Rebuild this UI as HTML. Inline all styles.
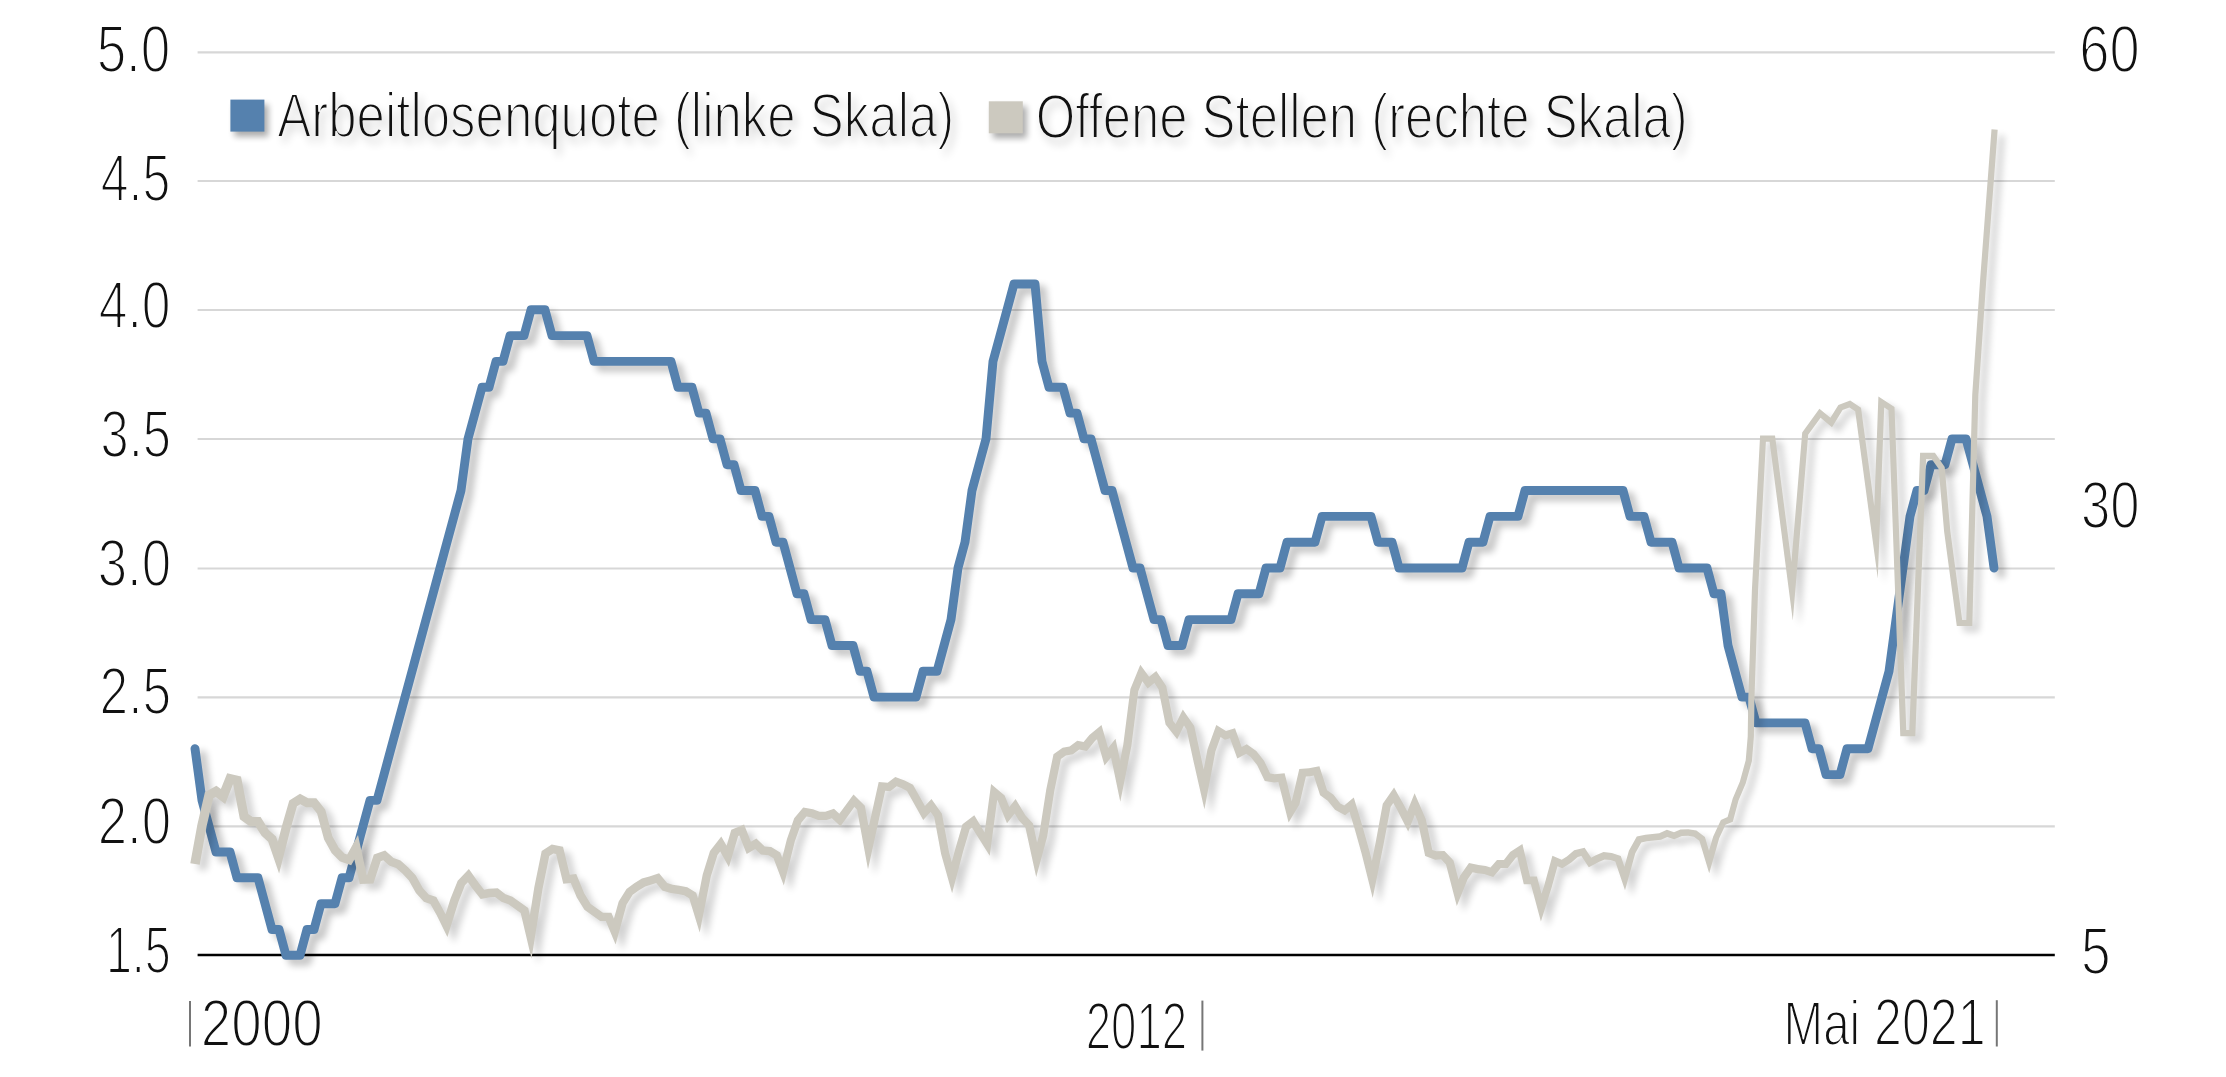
<!DOCTYPE html>
<html lang="de"><head><meta charset="utf-8"><title>Arbeitslosenquote und offene Stellen</title>
<style>html,body{margin:0;padding:0;background:#fff;}svg{display:block;}</style></head>
<body>
<svg width="2226" height="1077" viewBox="0 0 2226 1077" font-family="&quot;Liberation Sans&quot;, sans-serif" fill="#111">
<defs>
<filter id="sh" x="-5%" y="-5%" width="110%" height="115%" color-interpolation-filters="sRGB">
<feGaussianBlur in="SourceAlpha" stdDeviation="3.5"/><feOffset dx="6.5" dy="5.5"/>
<feComponentTransfer><feFuncA type="linear" slope="0.23"/></feComponentTransfer>
<feMerge><feMergeNode/><feMergeNode in="SourceGraphic"/></feMerge></filter>
<filter id="shg" x="-5%" y="-5%" width="110%" height="115%" color-interpolation-filters="sRGB">
<feGaussianBlur in="SourceAlpha" stdDeviation="3.5"/><feOffset dx="6.5" dy="5.5"/>
<feComponentTransfer><feFuncA type="linear" slope="0.18"/></feComponentTransfer>
<feMerge><feMergeNode/><feMergeNode in="SourceGraphic"/></feMerge></filter>
<filter id="shq" x="-50%" y="-50%" width="220%" height="220%" color-interpolation-filters="sRGB">
<feGaussianBlur in="SourceAlpha" stdDeviation="3"/><feOffset dx="4" dy="5"/>
<feComponentTransfer><feFuncA type="linear" slope="0.33"/></feComponentTransfer>
<feMerge><feMergeNode/><feMergeNode in="SourceGraphic"/></feMerge></filter>
<filter id="sht" x="-5%" y="-30%" width="110%" height="180%" color-interpolation-filters="sRGB">
<feColorMatrix in="SourceGraphic" type="matrix" values="0 0 0 0 0  0 0 0 0 0  0 0 0 0 0  -0.36 -0.36 -0.36 1.08 0" result="thin"/>
<feGaussianBlur in="thin" stdDeviation="5"/><feOffset dx="5" dy="5.5"/>
<feComponentTransfer result="shadow"><feFuncA type="linear" slope="0.25"/></feComponentTransfer>
<feFlood flood-color="#111"/><feComposite in2="thin" operator="in" result="ink"/>
<feMerge><feMergeNode in="shadow"/><feMergeNode in="ink"/></feMerge></filter>
</defs>
<rect width="2226" height="1077" fill="#fff"/>
<text transform="translate(170.35,72.00) scale(0.8035,1)" font-size="66.0" text-anchor="end" stroke="#fff" stroke-width="1.9" vector-effect="non-scaling-stroke" stroke-linejoin="round" >5.0</text>
<text transform="translate(170.17,200.50) scale(0.7569,1)" font-size="66.0" text-anchor="end" stroke="#fff" stroke-width="1.9" vector-effect="non-scaling-stroke" stroke-linejoin="round" >4.5</text>
<text transform="translate(170.47,328.40) scale(0.7827,1)" font-size="66.0" text-anchor="end" stroke="#fff" stroke-width="1.9" vector-effect="non-scaling-stroke" stroke-linejoin="round" >4.0</text>
<text transform="translate(171.01,456.50) scale(0.7678,1)" font-size="66.0" text-anchor="end" stroke="#fff" stroke-width="1.9" vector-effect="non-scaling-stroke" stroke-linejoin="round" >3.5</text>
<text transform="translate(171.14,586.20) scale(0.8011,1)" font-size="66.0" text-anchor="end" stroke="#fff" stroke-width="1.9" vector-effect="non-scaling-stroke" stroke-linejoin="round" >3.0</text>
<text transform="translate(171.06,714.10) scale(0.7798,1)" font-size="66.0" text-anchor="end" stroke="#fff" stroke-width="1.9" vector-effect="non-scaling-stroke" stroke-linejoin="round" >2.5</text>
<text transform="translate(171.14,843.60) scale(0.8011,1)" font-size="66.0" text-anchor="end" stroke="#fff" stroke-width="1.9" vector-effect="non-scaling-stroke" stroke-linejoin="round" >2.0</text>
<text transform="translate(170.79,972.70) scale(0.7075,1)" font-size="66.0" text-anchor="end" stroke="#fff" stroke-width="1.9" vector-effect="non-scaling-stroke" stroke-linejoin="round" >1.5</text>
<text transform="translate(2079.28,72.20) scale(0.8232,1)" font-size="66.0" text-anchor="start" stroke="#fff" stroke-width="1.9" vector-effect="non-scaling-stroke" stroke-linejoin="round" >60</text>
<text transform="translate(2080.98,527.80) scale(0.7990,1)" font-size="66.0" text-anchor="start" stroke="#fff" stroke-width="1.9" vector-effect="non-scaling-stroke" stroke-linejoin="round" >30</text>
<text transform="translate(2080.94,973.80) scale(0.8063,1)" font-size="66.0" text-anchor="start" stroke="#fff" stroke-width="1.9" vector-effect="non-scaling-stroke" stroke-linejoin="round" >5</text>
<text transform="translate(200.86,1045.60) scale(0.8301,1)" font-size="66.0" text-anchor="start" stroke="#fff" stroke-width="1.9" vector-effect="non-scaling-stroke" stroke-linejoin="round" >2000</text>
<text transform="translate(1085.65,1048.70) scale(0.6920,1)" font-size="66.0" text-anchor="start" stroke="#fff" stroke-width="1.9" vector-effect="non-scaling-stroke" stroke-linejoin="round" >2012</text>
<text transform="translate(1783.57,1045.30) scale(0.7601,1)" font-size="66.0" text-anchor="start" stroke="#fff" stroke-width="1.9" vector-effect="non-scaling-stroke" stroke-linejoin="round" ><tspan font-size="62.5">Mai</tspan> 2021</text>
<text transform="translate(277.31,137.20) scale(0.8154,1)" font-size="62.5" text-anchor="start" stroke="#fff" stroke-width="1.9" vector-effect="non-scaling-stroke" stroke-linejoin="round" filter="url(#sht)">Arbeitlosenquote (linke Skala)</text>
<text transform="translate(1035.73,138.20) scale(0.8139,1)" font-size="62.5" text-anchor="start" stroke="#fff" stroke-width="1.9" vector-effect="non-scaling-stroke" stroke-linejoin="round" filter="url(#sht)">Offene Stellen (rechte Skala)</text>
<line x1="197.6" x2="2054.8" y1="52.3" y2="52.3" stroke="#d7d7d7" stroke-width="2.2"/>
<line x1="197.6" x2="2054.8" y1="181.0" y2="181.0" stroke="#d7d7d7" stroke-width="2.2"/>
<line x1="197.6" x2="2054.8" y1="310.0" y2="310.0" stroke="#d7d7d7" stroke-width="2.2"/>
<line x1="197.6" x2="2054.8" y1="439.0" y2="439.0" stroke="#d7d7d7" stroke-width="2.2"/>
<line x1="197.6" x2="2054.8" y1="568.5" y2="568.5" stroke="#d7d7d7" stroke-width="2.2"/>
<line x1="197.6" x2="2054.8" y1="697.3" y2="697.3" stroke="#d7d7d7" stroke-width="2.2"/>
<line x1="197.6" x2="2054.8" y1="826.3" y2="826.3" stroke="#d7d7d7" stroke-width="2.2"/>
<line x1="197.6" x2="2054.8" y1="955.0" y2="955.0" stroke="#000" stroke-width="2.3"/>
<line x1="190" x2="190" y1="1001" y2="1046.6" stroke="#767676" stroke-width="2"/>
<line x1="1202.4" x2="1202.4" y1="1000.6" y2="1050.6" stroke="#767676" stroke-width="2"/>
<line x1="1996.8" x2="1996.8" y1="1000.2" y2="1046.5" stroke="#767676" stroke-width="2"/>
<g filter="url(#sh)"><path d="M195.0,748.7 L202.0,800.4 L209.0,826.2 L216.0,852.0 L223.0,852.0 L230.0,852.0 L237.0,877.8 L244.0,877.8 L251.0,877.8 L258.0,877.8 L265.0,903.7 L272.0,929.5 L279.0,929.5 L286.0,955.3 L293.0,955.3 L300.0,955.3 L307.0,929.5 L314.0,929.5 L321.0,903.7 L328.0,903.7 L335.0,903.7 L342.0,877.8 L349.0,877.8 L356.0,852.0 L363.0,826.2 L370.0,800.4 L377.0,800.4 L384.0,774.6 L391.0,748.7 L398.0,722.9 L405.0,697.1 L412.0,671.3 L419.0,645.5 L426.0,619.6 L433.0,593.8 L440.0,568.0 L447.0,542.2 L454.0,516.4 L461.0,490.5 L468.0,438.9 L475.0,413.1 L482.0,387.3 L489.0,387.3 L496.0,361.4 L503.0,361.4 L510.0,335.6 L517.0,335.6 L524.0,335.6 L531.0,309.8 L538.0,309.8 L545.0,309.8 L552.0,335.6 L559.0,335.6 L566.0,335.6 L573.0,335.6 L580.0,335.6 L587.0,335.6 L594.0,361.4 L601.0,361.4 L608.0,361.4 L615.0,361.4 L622.0,361.4 L629.0,361.4 L636.0,361.4 L643.0,361.4 L650.0,361.4 L657.0,361.4 L664.0,361.4 L671.0,361.4 L678.0,387.3 L685.0,387.3 L692.0,387.3 L699.0,413.1 L706.0,413.1 L713.0,438.9 L720.0,438.9 L727.0,464.7 L734.0,464.7 L741.0,490.5 L748.0,490.5 L755.0,490.5 L762.0,516.4 L769.0,516.4 L776.0,542.2 L783.0,542.2 L790.0,568.0 L797.0,593.8 L804.0,593.8 L811.0,619.6 L818.0,619.6 L825.0,619.6 L832.0,645.5 L839.0,645.5 L846.0,645.5 L853.0,645.5 L860.0,671.3 L867.0,671.3 L874.0,697.1 L881.0,697.1 L888.0,697.1 L895.0,697.1 L902.0,697.1 L909.0,697.1 L916.0,697.1 L923.0,671.3 L930.0,671.3 L937.0,671.3 L944.0,645.5 L951.0,619.6 L958.0,568.0 L965.0,542.2 L972.0,490.5 L979.0,464.7 L986.0,438.9 L993.0,361.4 L1000.0,335.6 L1007.0,309.8 L1014.0,284.0 L1021.0,284.0 L1028.0,284.0 L1035.0,284.0 L1042.0,361.4 L1049.0,387.3 L1056.0,387.3 L1063.0,387.3 L1070.0,413.1 L1077.0,413.1 L1084.0,438.9 L1091.0,438.9 L1098.0,464.7 L1105.0,490.5 L1112.0,490.5 L1119.0,516.4 L1126.0,542.2 L1133.0,568.0 L1140.0,568.0 L1147.0,593.8 L1154.0,619.6 L1161.0,619.6 L1168.0,645.5 L1175.0,645.5 L1182.0,645.5 L1189.0,619.6 L1196.0,619.6 L1203.0,619.6 L1210.0,619.6 L1217.0,619.6 L1224.0,619.6 L1231.0,619.6 L1238.0,593.8 L1245.0,593.8 L1252.0,593.8 L1259.0,593.8 L1266.0,568.0 L1273.0,568.0 L1280.0,568.0 L1287.0,542.2 L1294.0,542.2 L1301.0,542.2 L1308.0,542.2 L1315.0,542.2 L1322.0,516.4 L1329.0,516.4 L1336.0,516.4 L1343.0,516.4 L1350.0,516.4 L1357.0,516.4 L1364.0,516.4 L1371.0,516.4 L1378.0,542.2 L1385.0,542.2 L1392.0,542.2 L1399.0,568.0 L1406.0,568.0 L1413.0,568.0 L1420.0,568.0 L1427.0,568.0 L1434.0,568.0 L1441.0,568.0 L1448.0,568.0 L1455.0,568.0 L1462.0,568.0 L1469.0,542.2 L1476.0,542.2 L1483.0,542.2 L1490.0,516.4 L1497.0,516.4 L1504.0,516.4 L1511.0,516.4 L1518.0,516.4 L1525.0,490.5 L1532.0,490.5 L1539.0,490.5 L1546.0,490.5 L1553.0,490.5 L1560.0,490.5 L1567.0,490.5 L1574.0,490.5 L1581.0,490.5 L1588.0,490.5 L1595.0,490.5 L1602.0,490.5 L1609.0,490.5 L1616.0,490.5 L1623.0,490.5 L1630.0,516.4 L1637.0,516.4 L1644.0,516.4 L1651.0,542.2 L1658.0,542.2 L1665.0,542.2 L1672.0,542.2 L1679.0,568.0 L1686.0,568.0 L1693.0,568.0 L1700.0,568.0 L1707.0,568.0 L1714.0,593.8 L1721.0,593.8 L1728.0,645.5 L1735.0,671.3 L1742.0,697.1 L1749.0,697.1 L1756.0,722.9 L1763.0,722.9 L1770.0,722.9 L1777.0,722.9 L1784.0,722.9 L1791.0,722.9 L1798.0,722.9 L1805.0,722.9 L1812.0,748.7 L1819.0,748.7 L1826.0,774.6 L1833.0,774.6 L1840.0,774.6 L1847.0,748.7 L1854.0,748.7 L1861.0,748.7 L1868.0,748.7 L1875.0,722.9 L1882.0,697.1 L1889.0,671.3 L1896.0,619.6 L1903.0,568.0 L1910.0,516.4 L1917.0,490.5 L1924.0,490.5 L1931.0,464.7 L1938.0,464.7 L1945.0,464.7 L1952.0,438.9 L1959.0,438.9 L1966.0,438.9 L1973.0,464.7 L1980.0,490.5 L1987.0,516.4 L1994.0,568.0" fill="none" stroke="#5581ae" stroke-width="8.9" stroke-linejoin="round" stroke-linecap="round"/></g>
<g filter="url(#shg)"><path d="M216.4,785.7 204.9,792.2 197.4,824.4 190.3,863.2 199.7,864.8 206.6,826.3 213.2,798.3 215.7,796.9 225.2,803.9 233.1,784.1 239.9,819.3 249.6,826.2 255.5,826.2 261.6,835.8 268.2,841.8 279.1,873.5 290.5,829.0 297.0,806.2 300.3,804.2 306.0,807.3 312.0,807.3 317.1,813.6 324.1,839.6 331.6,853.1 339.8,861.2 351.2,865.3 354.4,859.6 359.8,884.0 373.4,883.5 380.7,861.3 383.3,860.3 389.1,865.4 396.1,868.0 402.4,873.6 408.9,880.5 415.9,893.0 423.9,901.7 430.4,904.0 436.6,915.1 447.4,936.9 458.4,902.0 465.0,885.3 467.9,882.3 472.0,888.1 480.7,898.9 490.0,897.2 495.1,896.9 501.4,901.8 508.5,904.3 520.7,913.1 531.5,958.7 542.6,888.7 549.3,856.1 553.4,853.4 556.1,854.0 563.3,883.8 570.8,883.0 576.8,897.5 584.4,909.8 600.2,921.0 605.8,921.1 615.6,944.4 626.5,904.8 632.7,894.7 639.0,890.3 645.3,886.4 656.2,883.0 662.3,890.4 670.8,892.9 678.0,893.9 684.1,895.2 689.2,898.3 699.7,932.6 710.8,876.5 717.5,854.9 720.2,851.4 728.9,867.0 738.2,836.0 739.4,835.5 746.7,854.1 755.2,848.9 760.9,854.4 768.5,855.2 773.5,858.2 783.8,885.5 794.8,841.6 801.5,822.4 806.5,816.6 810.8,817.3 818.2,820.0 826.6,820.0 831.9,818.2 840.5,826.3 854.4,807.1 857.1,809.8 868.0,869.2 885.2,790.8 890.2,791.2 896.7,786.3 901.3,787.9 907.0,791.0 923.2,819.9 930.6,812.0 934.2,817.1 941.1,854.0 952.1,893.2 963.1,851.6 969.7,829.2 972.0,827.4 976.6,835.1 989.7,855.8 997.2,800.0 997.7,800.4 1007.0,823.2 1014.7,813.4 1018.9,820.5 1025.4,827.5 1036.2,876.9 1047.2,836.4 1054.3,791.1 1060.9,759.0 1065.9,755.4 1072.9,754.2 1079.2,749.5 1086.9,751.0 1095.2,740.7 1097.0,739.2 1104.5,765.6 1111.1,757.4 1120.3,801.7 1131.4,745.9 1138.3,691.2 1142.4,681.3 1147.6,688.4 1154.4,683.0 1158.5,689.2 1165.6,724.5 1177.2,739.3 1184.0,725.5 1186.6,729.4 1193.5,761.2 1204.4,809.2 1215.4,751.4 1220.6,737.1 1224.9,739.8 1230.0,738.2 1237.3,758.6 1246.2,753.8 1250.7,757.0 1257.1,765.0 1264.8,781.0 1274.4,782.4 1278.4,782.0 1288.6,822.4 1299.4,804.4 1305.9,776.6 1310.1,776.3 1313.8,775.6 1320.1,795.3 1327.8,800.8 1335.0,809.8 1345.1,815.3 1349.5,811.7 1354.7,829.0 1361.7,854.0 1372.7,898.1 1383.7,843.7 1390.6,807.0 1393.3,803.0 1397.1,809.7 1408.2,831.4 1414.9,814.8 1417.8,821.6 1425.2,856.1 1435.2,859.7 1441.1,859.3 1446.0,864.6 1456.8,905.9 1467.5,879.4 1472.6,872.3 1477.2,873.3 1484.1,874.1 1493.2,876.9 1500.8,868.1 1507.8,868.0 1515.7,858.0 1517.3,856.9 1523.8,884.3 1530.9,884.3 1540.9,921.5 1551.6,887.5 1557.5,866.2 1562.3,868.2 1571.0,862.8 1577.8,857.0 1581.4,856.1 1588.8,867.3 1598.7,862.0 1604.6,859.5 1610.5,860.1 1615.3,861.6 1625.0,890.3 1635.3,853.3 1641.3,842.5 1646.8,841.3 1661.0,839.7 1667.3,836.9 1674.2,839.3 1681.9,836.0 1688.1,835.7 1693.9,836.7 1699.4,840.8 1709.2,873.2 1719.2,838.3 1725.5,824.8 1732.8,821.7 1738.5,800.4 1745.7,783.5 1751.9,761.3 1753.9,736.8 1754.5,698.1 1758.1,590.2 1765.9,441.7 1769.6,441.7 1792.8,620.5 1808.2,434.7 1820.6,417.7 1832.0,427.2 1842.6,410.1 1849.4,407.4 1855.2,411.3 1877.8,578.5 1884.2,407.6 1888.5,410.3 1900.3,736.2 1915.3,736.2 1926.1,459.0 1931.7,459.0 1938.7,469.1 1944.1,531.4 1956.8,626.1 1972.3,626.1 1978.4,395.2 1986.1,282.9 1997.7,129.7 1991.5,129.3 1979.9,282.5 1972.2,394.8 1966.3,619.9 1962.2,619.9 1950.3,530.7 1944.7,466.9 1934.9,452.8 1920.1,452.8 1909.3,730.0 1906.3,730.0 1894.5,406.9 1878.4,396.6 1874.3,506.2 1861.0,407.7 1850.2,400.4 1838.4,405.1 1830.4,417.8 1819.4,408.7 1802.2,432.5 1791.4,561.9 1775.0,435.5 1760.1,435.5 1751.9,589.8 1748.3,697.9 1747.7,736.4 1745.7,760.3 1739.9,781.5 1732.7,798.4 1727.6,817.1 1720.9,820.0 1713.2,836.4 1709.0,850.8 1704.9,836.9 1696.4,830.6 1688.3,829.3 1680.4,829.6 1674.0,832.3 1666.9,829.8 1659.3,833.2 1645.4,834.7 1636.8,836.5 1628.9,850.8 1624.4,866.7 1620.8,856.0 1611.8,853.1 1603.5,852.1 1595.3,855.6 1591.2,857.7 1584.6,847.7 1574.2,850.2 1566.9,856.4 1561.7,859.7 1552.4,855.8 1544.3,885.2 1541.5,893.8 1536.9,876.5 1530.1,876.5 1522.4,843.9 1510.1,852.1 1503.9,859.9 1497.0,859.9 1490.5,867.5 1485.7,865.9 1478.5,865.1 1469.0,863.1 1460.2,875.4 1458.5,879.5 1453.5,860.4 1444.5,850.9 1436.4,851.3 1432.3,849.9 1425.7,819.1 1414.6,793.3 1407.3,811.6 1404.4,806.0 1394.1,787.5 1382.8,803.7 1375.7,842.2 1371.9,860.9 1369.7,852.0 1362.6,826.8 1353.8,797.6 1344.2,805.5 1340.3,803.4 1333.5,794.8 1327.1,790.3 1319.4,766.2 1309.0,768.2 1299.3,768.9 1291.7,801.4 1284.6,773.3 1274.6,774.2 1270.2,773.6 1264.0,760.7 1256.3,751.1 1246.8,744.3 1241.7,747.0 1235.0,728.2 1226.0,731.0 1216.3,725.0 1207.5,749.2 1203.7,769.5 1194.2,726.1 1182.8,709.4 1175.6,724.1 1173.2,721.0 1166.2,686.1 1156.3,671.1 1149.1,676.8 1140.3,664.8 1130.4,689.1 1123.3,744.6 1120.1,760.7 1115.5,738.8 1108.1,748.1 1101.5,725.0 1089.4,734.9 1083.6,742.0 1077.3,740.8 1069.6,746.4 1062.6,747.7 1053.5,754.2 1046.2,789.7 1039.2,834.7 1037.1,842.4 1033.0,823.5 1025.5,815.5 1015.6,798.9 1009.3,807.0 1004.6,795.5 991.1,783.9 984.6,832.4 974.3,815.2 962.5,824.3 955.1,849.5 951.8,861.9 949.1,852.2 941.9,813.8 931.5,798.9 924.9,806.0 913.0,784.8 904.7,780.4 895.3,777.0 887.7,782.7 878.7,782.0 868.7,827.1 864.8,805.8 853.5,794.5 839.3,813.8 834.0,808.8 825.2,811.7 819.6,811.7 813.0,809.3 803.2,807.5 794.2,818.2 786.9,839.2 782.2,857.8 780.2,852.6 771.2,847.1 764.7,846.4 756.4,838.4 750.9,841.8 744.1,824.6 731.3,829.7 726.6,845.7 721.3,836.4 710.0,851.0 702.7,874.5 698.0,898.4 696.2,892.8 687.3,887.3 679.4,885.7 672.6,884.7 667.1,883.1 659.1,873.2 649.4,876.5 641.9,878.6 634.3,883.3 626.5,888.9 618.7,901.4 613.9,918.8 611.4,912.8 603.0,912.7 590.7,903.9 584.3,893.6 576.2,874.0 569.8,874.7 563.0,846.8 551.7,844.4 541.7,850.9 534.3,887.2 529.9,915.2 528.2,908.1 512.4,896.8 505.5,894.3 497.8,888.2 488.9,888.8 484.1,889.7 478.8,883.0 468.9,869.0 457.7,880.7 450.4,899.1 445.6,914.2 436.3,897.1 428.7,894.4 422.8,888.0 415.8,875.5 408.3,867.4 400.5,860.5 393.5,858.0 385.2,850.5 373.8,854.6 367.1,875.0 366.7,875.0 358.0,835.1 347.2,854.6 344.7,853.7 338.8,847.8 332.4,836.3 325.2,809.5 316.3,798.3 308.3,798.3 300.0,793.8 289.3,800.4 281.7,826.7 277.9,841.8 276.0,836.5 268.7,829.9 260.6,817.0 252.6,817.0 248.3,813.9 241.0,776.4 227.2,773.2 220.9,789.1Z" fill="#ccc9bf" stroke="none"/></g>
<rect x="230.4" y="99.6" width="34" height="32" fill="#5581ae" filter="url(#shq)"/>
<rect x="988.8" y="101.3" width="34" height="32" fill="#ccc9bf" filter="url(#shq)"/>
</svg>
</body></html>
